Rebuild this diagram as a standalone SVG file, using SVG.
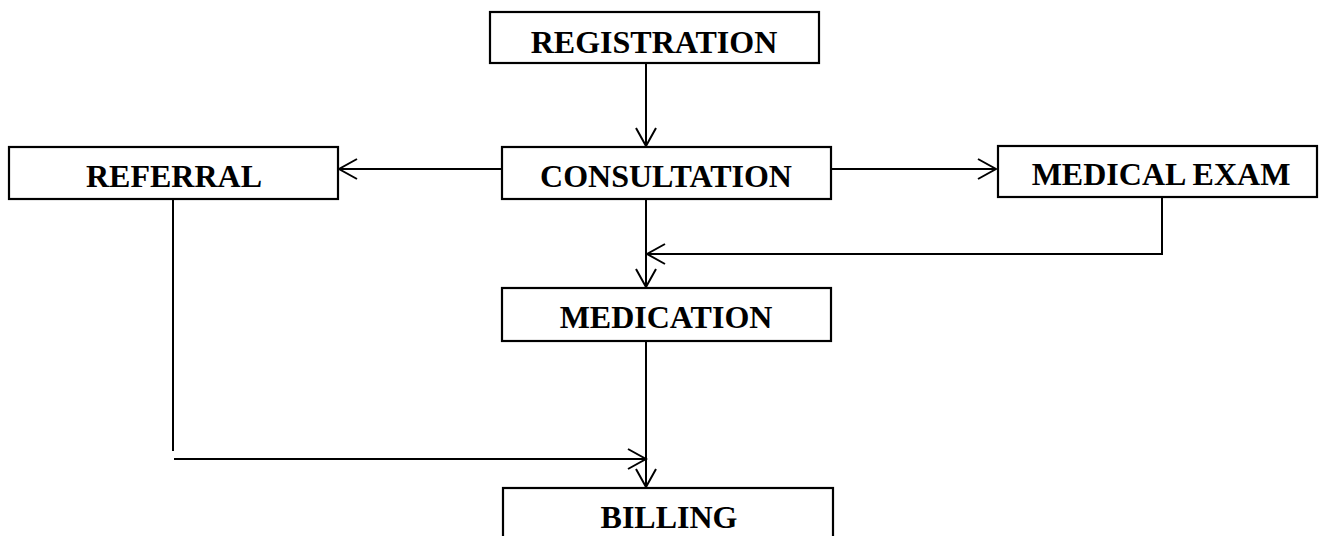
<svg xmlns="http://www.w3.org/2000/svg" width="1320" height="536" viewBox="0 0 1320 536">
<style>
.box{fill:#fff;stroke:#000;stroke-width:2.2}
.lbl{font-family:"Liberation Serif","Times New Roman",serif;font-weight:bold;font-size:32px;text-anchor:middle;fill:#000}
.c{fill:none;stroke:#000;stroke-width:2}
</style>
<defs>
<marker id="ah" viewBox="0 0 22 22" refX="20" refY="11" markerWidth="22" markerHeight="22" markerUnits="userSpaceOnUse" orient="auto">
<path d="M2,1 L20,11 L2,21" fill="none" stroke="#000" stroke-width="2"/>
</marker>
</defs>
<rect width="1320" height="536" fill="#fff"/>
<g id="registration"><rect class="box" x="490" y="12" width="329" height="51"/><text class="lbl" x="654" y="53">REGISTRATION</text></g>
<g id="consultation"><rect class="box" x="502" y="147" width="329" height="52"/><text class="lbl" x="666" y="187">CONSULTATION</text></g>
<g id="referral"><rect class="box" x="9" y="147" width="329" height="52"/><text class="lbl" x="174" y="187">REFERRAL</text></g>
<g id="medical-exam"><rect class="box" x="998" y="146" width="319" height="51"/><text class="lbl" x="1161" y="185">MEDICAL EXAM</text></g>
<g id="medication"><rect class="box" x="502" y="288" width="329" height="53"/><text class="lbl" x="666" y="328">MEDICATION</text></g>
<g id="billing"><rect class="box" x="503" y="488" width="330" height="60"/><text class="lbl" x="669" y="528">BILLING</text></g>
<g id="connectors">
<path class="c" d="M646,63 V146" marker-end="url(#ah)"/>
<path class="c" d="M502,169 H339" marker-end="url(#ah)"/>
<path class="c" d="M831,169 H996" marker-end="url(#ah)"/>
<path class="c" d="M646,199 V287" marker-end="url(#ah)"/>
<path class="c" d="M1162,197 V254 H647" marker-end="url(#ah)"/>
<path class="c" d="M646,341 V487" marker-end="url(#ah)"/>
<path class="c" d="M173,199 V451"/>
<path class="c" d="M174,459 H646" marker-end="url(#ah)"/>
</g>
</svg>
